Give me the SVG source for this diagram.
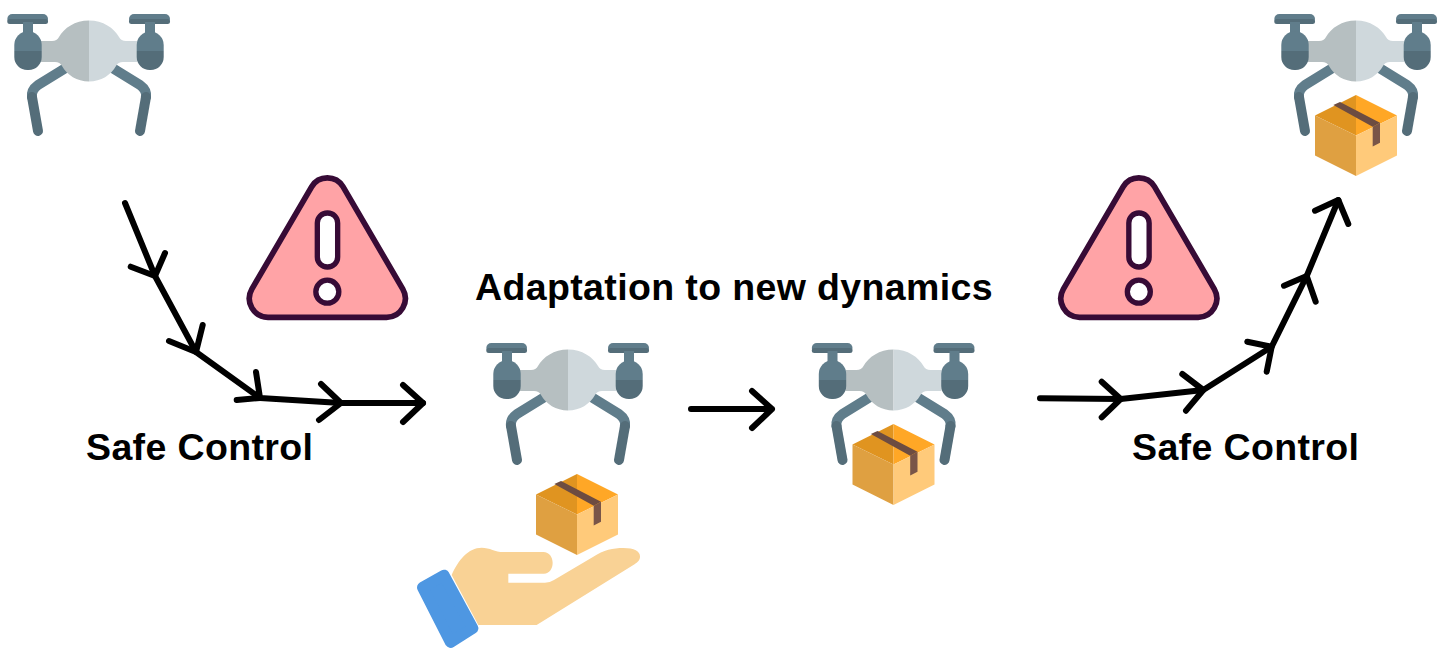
<svg xmlns="http://www.w3.org/2000/svg" xmlns:xlink="http://www.w3.org/1999/xlink" width="1449" height="655" viewBox="0 0 1449 655">
<style>
.a{fill:none;stroke:#000;stroke-width:6;stroke-linecap:round;stroke-linejoin:round}
.t{font-family:"Liberation Sans",Arial,sans-serif;font-weight:700;font-size:37.500px;fill:#000;letter-spacing:.370px}
.u{fill:#607d8b}.l{fill:#546d79}
.lu{fill:none;stroke:#607d8b;stroke-width:10;stroke-linecap:round;stroke-linejoin:round}
.ll{fill:none;stroke:#546d79;stroke-width:10;stroke-linecap:round}
</style>
<defs>
<g id="drone">
<path class="lu" d="M64 69L38 85Q31 90 32 97"/><path class="ll" d="M32 97L38 131"/>
<path class="lu" d="M114 69L140 85Q147 90 146 97"/><path class="ll" d="M146 97L140 131"/>
<rect class="u" x="7.300" y="14" width="40.700" height="10" rx="5"/><rect class="l" x="7.300" y="19" width="40.700" height="5" rx="2.500"/>
<rect class="u" x="129" y="14" width="41" height="10" rx="5"/><rect class="l" x="129" y="19" width="41" height="5" rx="2.500"/>
<rect class="u" x="23" y="22" width="10" height="13"/><rect class="u" x="145" y="22" width="10" height="13"/>
<path fill="#b6bfc1" d="M89 20.500C75 20.500 64 28 59 37Q57 41 52 41H41V62H55Q60 62 62 66C67 75 77 81.500 89 81.500Z"/>
<path fill="#cfd8dc" d="M89 20.500C103 20.500 114 28 119 37Q121 41 126 41H137V62H123Q118 62 116 66C111 75 101 81.500 89 81.500Z"/>
<path class="u" d="M14.300 51V45A13.500 13.500 0 0 1 41.700 45V51Z"/><path class="l" d="M14.300 51V57A13 13 0 0 0 27.300 70H28.700A13 13 0 0 0 41.700 57V51Z"/>
<path class="u" d="M136.700 51V45A13.500 13.500 0 0 1 163.700 45V51Z"/><path class="l" d="M136.700 51V57A13 13 0 0 0 149.700 70H150.700A13 13 0 0 0 163.700 57V51Z"/>
</g>
<g id="box">
<path fill="#e09420" d="M0 0L-41 20.500L0 40.500Z"/>
<path fill="#ffa726" d="M0 0L41 20.500L0 40.500Z"/>
<path fill="#dfa041" d="M-41 20.500L0 40.500V81L-41 60.500Z"/>
<path fill="#ffca7a" d="M41 20.500L0 40.500V81L41 60.500Z"/>
<path fill="#6d4c41" d="M-22.700 10L-16 7L24 27.700L16.700 31.700Z"/>
<path fill="#795548" d="M16.700 31.700L24 27.700V47.700L16.700 51.500Z"/>
</g>
<g id="warn">
<path fill="#ffa3a6" stroke="#370b36" stroke-width="17" d="M84 442H440A56.600 56.600 0 0 0 488.500 357.400L309 50A55 55 0 0 0 215 50L35.500 357.400A56.600 56.600 0 0 0 84 442Z"/>
<rect x="232" y="129" width="61" height="162" rx="30" fill="#fff" stroke="#370b36" stroke-width="16"/>
<circle cx="262" cy="365" r="34.500" fill="#fff" stroke="#370b36" stroke-width="16"/>
</g>
</defs>
<g id="connectors">
<path class="a" d="M125 203L155 276L196 352L260 398L341 403L423 403"/>
<path class="a" d="M130.700 266.700L155 276L165 253M169 341L196 352L202.700 325M236.700 400L260 398L256 372M321 384L341 403L319 420M403 385L423 403L403 422"/>
<path class="a" d="M691 409H772M752 391L772 409L752 428"/>
<path class="a" d="M1040 398.300L1120.700 399L1203.300 390L1271.700 346.700L1306.700 276L1338.300 200"/>
<path class="a" d="M1101.700 381.700L1120.700 399L1101.700 417.300M1182.300 374L1203.300 390L1186 410.700M1247.300 341.700L1271.700 346.700L1266.700 371.700M1284 285.700L1306.700 276L1315.700 301.700M1315 210.700L1338.300 200L1348.300 224"/>
</g>
<g id="drone-start"><use xlink:href="#drone" href="#drone"/></g>
<g id="warning-left"><use href="#warn" transform="translate(240 170) scale(.3333)"/></g>
<g id="drone-pickup"><use href="#drone" x="479" y="329"/></g>
<g id="box-hand"><use href="#box" x="577" y="474"/></g>
<g id="hand" transform="translate(400 460) scale(.3333)">
<path fill="#f9d295" d="M155 345C175 300 205 263 245 263C270 263 285 276 310 276H430C448 276 458 292 458 308C458 326 448 341 432 341H325V368H435Q450 368 462 360L580 290C610 270 640 264 670 264C705 264 722 275 720 292C719 303 712 307 705 312L410 495H235Z"/>
<path fill="#4e97e2" stroke="#4e97e2" stroke-width="34" stroke-linejoin="round" d="M68 382L132 346L218 505L152 547Z"/>
</g>
<g id="drone-carrying"><use href="#drone" x="804.500" y="329"/><use href="#box" x="893.500" y="424"/></g>
<g id="warning-right"><use href="#warn" transform="translate(1051.500 170) scale(.3333)"/></g>
<g id="drone-end"><use href="#drone" x="1267" y="0"/><use href="#box" x="1356" y="95"/></g>
<g id="labels">
<text class="t" x="86" y="460">Safe Control</text>
<text class="t" x="475" y="300">Adaptation to new dynamics</text>
<text class="t" x="1132" y="460">Safe Control</text>
</g>
</svg>
